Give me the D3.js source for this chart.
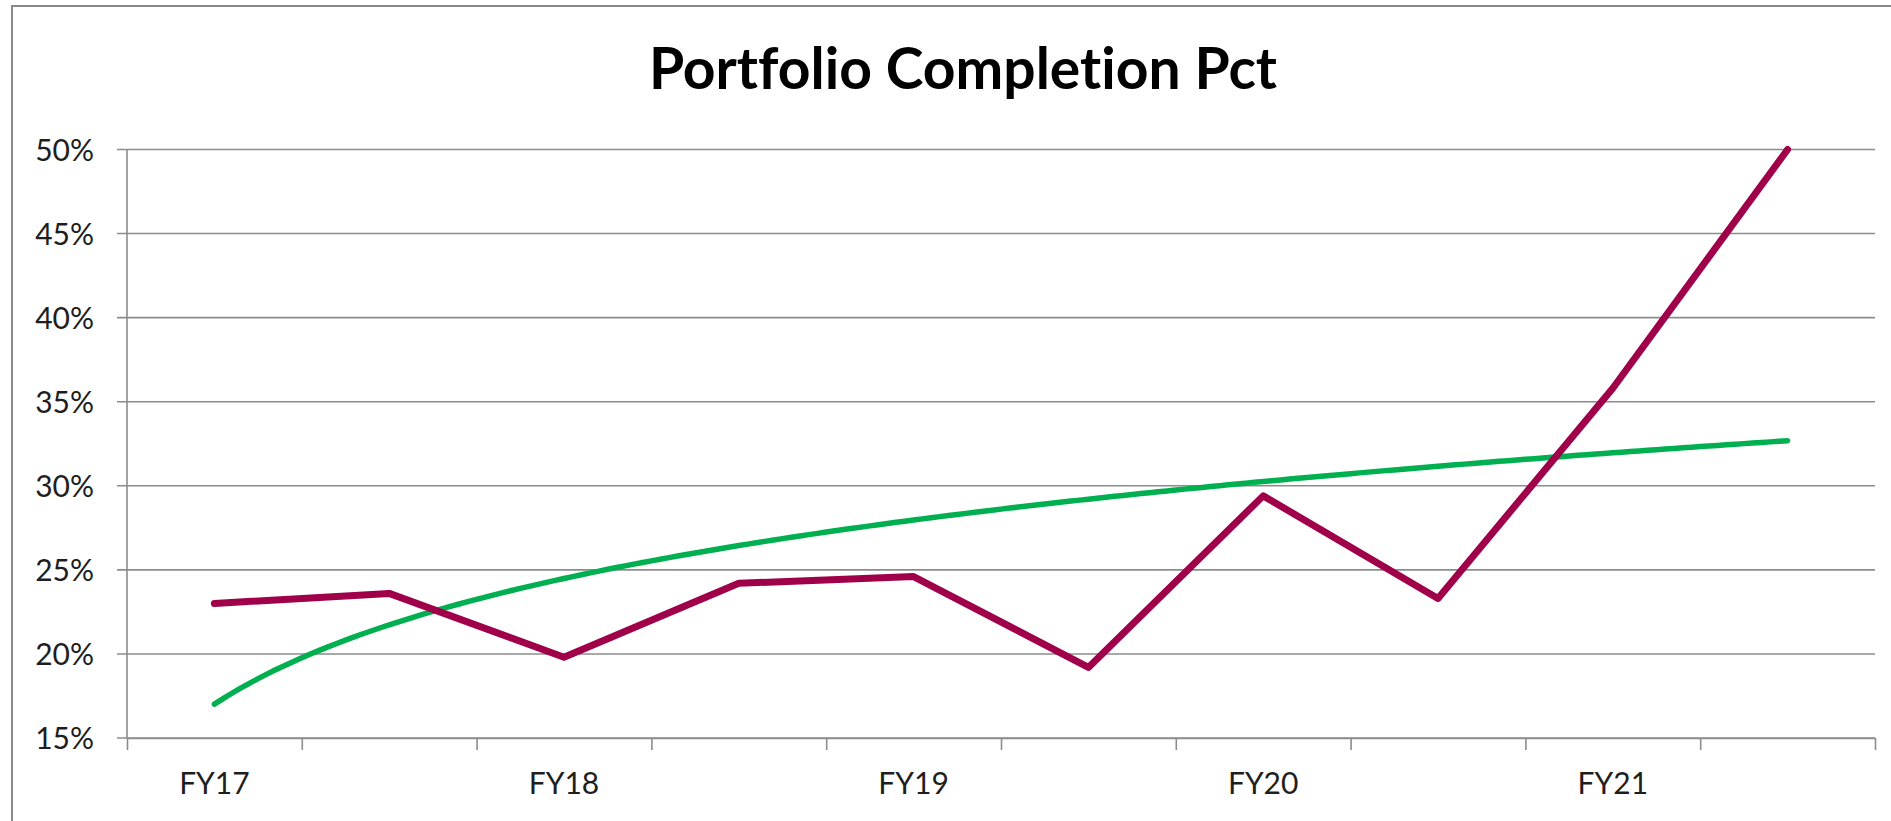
<!DOCTYPE html>
<html>
<head>
<meta charset="utf-8">
<script src="https://cdn.jsdelivr.net/npm/d3@7"></script>
<style>
    html, body { margin: 0; padding: 0; background: #fff; overflow: hidden; }
    svg { display: block; }
    text { font-variant-ligatures: none; }
    .axis-label { font-family: Lato, "Open Sans", sans-serif; fill: #1e1e1e; }
</style>
</head>
<body>
<div id="chart"></div>
<script>

// categories are half-year periods, only every other one is labelled
var categories = ['FY17', '', 'FY18', '', 'FY19', '', 'FY20', '', 'FY21', ''];

// portfolio completion pct, one value per period
var completionPct = [23.0, 23.6, 19.8, 24.2, 24.6, 19.2, 29.4, 23.3, 35.8, 50.0];

var yTickValues = [15, 20, 25, 30, 35, 40, 45, 50];

var sTitle = 'Portfolio Completion Pct';

(function() {

    var iWidth = 1891;
    var iHeight = 821;

    var oPlot = { iLeft: 127, iRight: 1875, iTop: 149.5, iBottom: 738 };

    var dSVG = d3
        .select('#chart')
        .append('svg')
        .attr('width', iWidth)
        .attr('height', iHeight);

    // chart area border (right and bottom fall outside the picture)
    dSVG.append('rect')
        .attr('x', 12)
        .attr('y', 6)
        .attr('width', iWidth + 20)
        .attr('height', iHeight + 20)
        .style('fill', '#fff')
        .style('stroke', '#8a8a8a')
        .style('stroke-width', 2);

    var x = d3.scaleLinear()
        .domain([-0.5, categories.length - 0.5])
        .range([oPlot.iLeft, oPlot.iRight]);

    var y = d3.scaleLinear()
        .domain([15, 50])
        .range([oPlot.iBottom, oPlot.iTop]);

    // gridlines
    dSVG.append('g')
        .selectAll('line')
        .data(yTickValues)
        .enter().append('line')
        .attr('x1', oPlot.iLeft - 10)
        .attr('x2', oPlot.iRight)
        .attr('y1', function(d) { return y(d); })
        .attr('y2', function(d) { return y(d); })
        .style('stroke', '#8c8c8c')
        .style('stroke-width', 1.6);

    // y axis
    var yAxis = d3.axisLeft(y)
        .tickValues(yTickValues)
        .tickSize(0)
        .tickPadding(33)
        .tickFormat(function(d) { return d + '%'; });

    var dYAxis = dSVG.append('g')
        .attr('transform', 'translate(' + oPlot.iLeft + ',0)')
        .call(yAxis);

    dYAxis.select('.domain').remove();
    dYAxis.selectAll('text')
        .attr('class', 'axis-label')
        .style('font-size', '30px')
        .attr('dy', '0.36em');

    dSVG.append('line')
        .attr('x1', oPlot.iLeft).attr('x2', oPlot.iLeft)
        .attr('y1', oPlot.iTop).attr('y2', oPlot.iBottom)
        .style('stroke', '#8c8c8c')
        .style('stroke-width', 1.6);

    // x axis: tick marks on category boundaries, labels on category centres
    var aBounds = d3.range(categories.length + 1).map(function(i) { return i - 0.5; });

    var xAxis = d3.axisBottom(x)
        .tickValues(aBounds)
        .tickSize(12)
        .tickSizeOuter(0)
        .tickFormat('');

    var dXAxis = dSVG.append('g')
        .attr('transform', 'translate(0,' + oPlot.iBottom + ')')
        .call(xAxis);

    dXAxis.select('.domain').style('stroke', '#8c8c8c').style('stroke-width', 1.6);
    dXAxis.selectAll('.tick line').style('stroke', '#8c8c8c').style('stroke-width', 1.6);

    dSVG.append('g')
        .selectAll('text')
        .data(categories)
        .enter().append('text')
        .attr('class', 'axis-label')
        .attr('x', function(d, i) { return x(i); })
        .attr('y', 794)
        .attr('text-anchor', 'middle')
        .style('font-size', '30px')
        .text(function(d) { return d; });

    // logarithmic trendline fitted to the series (y = a + b ln n)
    var aLn = completionPct.map(function(d, i) { return Math.log(i + 1); });
    var fMeanLn = d3.mean(aLn);
    var fMeanY = d3.mean(completionPct);
    var fCov = d3.sum(completionPct, function(d, i) { return (aLn[i] - fMeanLn) * (d - fMeanY); });
    var fVar = d3.sum(aLn, function(d) { return (d - fMeanLn) * (d - fMeanLn); });
    var fB = fCov / fVar;
    var fA = fMeanY - fB * fMeanLn;

    var aTrendX = d3.range(0, categories.length - 1 + 0.0001, 0.05);

    var trendLine = d3.line()
        .x(function(d) { return x(d); })
        .y(function(d) { return y(fA + fB * Math.log(d + 1)); });

    dSVG.append('path')
        .datum(aTrendX)
        .attr('d', trendLine)
        .style('fill', 'none')
        .style('stroke', '#00b050')
        .style('stroke-width', 5.5)
        .style('stroke-linecap', 'round');

    // the series
    var seriesLine = d3.line()
        .x(function(d, i) { return x(i); })
        .y(function(d) { return y(d); });

    dSVG.append('path')
        .datum(completionPct)
        .attr('d', seriesLine)
        .style('fill', 'none')
        .style('stroke', '#a0004a')
        .style('stroke-width', 7)
        .style('stroke-linejoin', 'round')
        .style('stroke-linecap', 'round');

    // title
    dSVG.append('text')
        .attr('x', 963)
        .attr('y', 89)
        .attr('text-anchor', 'middle')
        .style('font-family', 'Lato, "Open Sans", sans-serif')
        .style('font-weight', 'bold')
        .style('font-size', '57px')
        .style('fill', '#000')
        .text(sTitle);

})();

</script>
</body>
</html>
